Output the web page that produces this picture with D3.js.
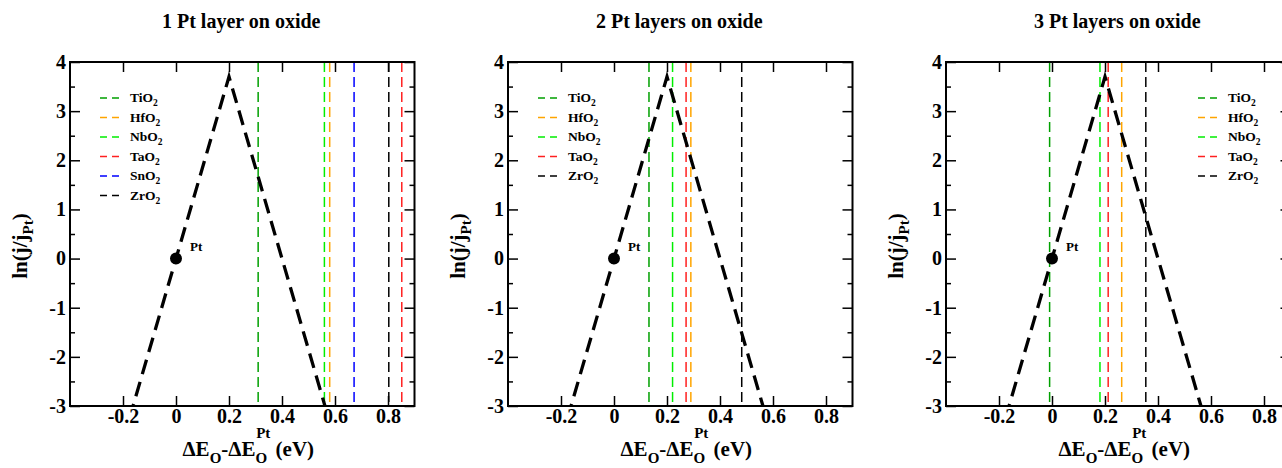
<!DOCTYPE html>
<html>
<head>
<meta charset="utf-8">
<script src="https://cdn.jsdelivr.net/npm/d3@7"></script>
<style>
  body { margin: 0; background: #fff; }
</style>
</head>
<body>
<svg id="chart" width="1282" height="468"></svg>
<script>
// volcano line (clipped to the plot)
const volcanoX = [-0.2, 0.2, 0.6];
const volcanoY = [-3.7, 3.7, -3.7];
const ptX = [0];
const ptY = [0];

const titles = ['1 Pt layer on oxide', '2 Pt layers on oxide', '3 Pt layers on oxide'];

const oxides1 = ['TiO2', 'HfO2', 'NbO2', 'TaO2', 'SnO2', 'ZrO2'];
const shift1 = [0.31, 0.58, 0.56, 0.852, 0.672, 0.803];
const oxides2 = ['TiO2', 'HfO2', 'NbO2', 'TaO2', 'ZrO2'];
const shift2 = [0.132, 0.29, 0.221, 0.272, 0.482];
const oxides3 = ['TiO2', 'HfO2', 'NbO2', 'TaO2', 'ZrO2'];
const shift3 = [-0.009, 0.263, 0.181, 0.212, 0.354];

const xTicks = [-0.2, 0, 0.2, 0.4, 0.6, 0.8];
const xTickLabels = ['-0.2', '0', '0.2', '0.4', '0.6', '0.8'];
const yTicks = [-3, -2, -1, 0, 1, 2, 3, 4];
const yTickLabels = ['-3', '-2', '-1', '0', '1', '2', '3', '4'];
const yMinor = [-2.5, -1.5, -0.5, 0.5, 1.5, 2.5, 3.5];

const oxideColor = {
  TiO2: '#00a000',
  HfO2: '#ffa500',
  NbO2: '#00ee00',
  TaO2: '#ff2020',
  SnO2: '#0000ff',
  ZrO2: '#000000'
};

const panels = [
  { title: titles[0], oxides: oxides1, shift: shift1, left: 70, legendX: 100 },
  { title: titles[1], oxides: oxides2, shift: shift2, left: 508, legendX: 538 },
  { title: titles[2], oxides: oxides3, shift: shift3, left: 946, legendX: 1198 }
];

const serif = 'Liberation Serif';
const plotTop = 62, plotBottom = 406, plotW = 344.5;
const svg = d3.select('#chart');

panels.forEach((p, idx) => {
  const x = d3.scaleLinear().domain([-0.4, 0.9]).range([p.left, p.left + plotW]);
  const y = d3.scaleLinear().domain([-3, 4]).range([plotBottom, plotTop]);
  const g = svg.append('g')
    .attr('font-family', serif)
    .attr('font-weight', 'bold');

  const clipId = `clip-${idx}`;
  g.append('clipPath').attr('id', clipId)
    .append('rect')
    .attr('x', p.left).attr('y', plotTop)
    .attr('width', plotW).attr('height', plotBottom - plotTop);

  // title
  g.append('text')
    .attr('x', p.left + plotW / 2 - 1)
    .attr('y', 28)
    .attr('text-anchor', 'middle')
    .attr('font-size', 20)
    .text(p.title);

  // vertical oxide lines
  p.oxides.forEach((ox, i) => {
    g.append('line')
      .attr('x1', x(p.shift[i])).attr('x2', x(p.shift[i]))
      .attr('y1', y(4)).attr('y2', y(-3))
      .attr('stroke', oxideColor[ox])
      .attr('stroke-width', 1.5)
      .attr('stroke-dasharray', '10,5');
  });

  // volcano
  const line = d3.line().x(d => x(d[0])).y(d => y(d[1]));
  g.append('path')
    .attr('clip-path', `url(#${clipId})`)
    .attr('d', line(volcanoX.map((v, i) => [v, volcanoY[i]])))
    .attr('fill', 'none')
    .attr('stroke', 'black')
    .attr('stroke-width', 3.3)
    .attr('stroke-dasharray', '15,8');

  // Pt point
  g.append('circle')
    .attr('cx', x(ptX[0])).attr('cy', y(ptY[0]))
    .attr('r', 6).attr('fill', 'black');
  g.append('text')
    .attr('x', x(ptX[0]) + 14).attr('y', y(ptY[0]) - 8)
    .attr('font-size', 13)
    .text('Pt');

  // legend
  p.oxides.forEach((ox, i) => {
    const ly = 98 + i * 19.5;
    g.append('line')
      .attr('x1', p.legendX).attr('x2', p.legendX + 20)
      .attr('y1', ly).attr('y2', ly)
      .attr('stroke', oxideColor[ox])
      .attr('stroke-width', 1.5)
      .attr('stroke-dasharray', '7,5');
    const t = g.append('text')
      .attr('x', p.legendX + 30).attr('y', ly + 4)
      .attr('font-size', 13.5);
    t.append('tspan').text(ox.slice(0, -1));
    t.append('tspan').attr('dy', 4).attr('font-size', 9.5).text(ox.slice(-1));
  });

  // axes
  const styleAxis = sel => {
    sel.attr('font-family', serif).attr('font-weight', 'bold').attr('font-size', 20);
    sel.select('.domain').remove();
    sel.selectAll('line').attr('stroke', 'black').attr('stroke-width', 1.5);
    sel.selectAll('text').attr('fill', 'black');
  };
  g.append('g').attr('transform', `translate(0,${plotBottom})`)
    .call(d3.axisBottom(x).tickValues(xTicks).tickSizeInner(-10).tickSizeOuter(0)
      .tickPadding(3).tickFormat((d, i) => xTickLabels[i]))
    .call(styleAxis);
  g.append('g').attr('transform', `translate(0,${plotTop})`)
    .call(d3.axisTop(x).tickValues(xTicks).tickSizeInner(-10).tickSizeOuter(0).tickFormat(''))
    .call(styleAxis);
  g.append('g').attr('transform', `translate(${p.left},0)`)
    .call(d3.axisLeft(y).tickValues(yTicks).tickSizeInner(-10).tickSizeOuter(0)
      .tickPadding(4).tickFormat((d, i) => yTickLabels[i]))
    .call(styleAxis);
  g.append('g').attr('transform', `translate(${p.left},0)`)
    .call(d3.axisLeft(y).tickValues(yMinor).tickSizeInner(-5).tickSizeOuter(0).tickFormat(''))
    .call(styleAxis);
  g.append('g').attr('transform', `translate(${p.left + plotW},0)`)
    .call(d3.axisRight(y).tickValues(yTicks).tickSizeInner(-10).tickSizeOuter(0).tickFormat(''))
    .call(styleAxis);
  g.append('g').attr('transform', `translate(${p.left + plotW},0)`)
    .call(d3.axisRight(y).tickValues(yMinor).tickSizeInner(-5).tickSizeOuter(0).tickFormat(''))
    .call(styleAxis);

  // frame
  g.append('rect')
    .attr('x', p.left).attr('y', plotTop)
    .attr('width', plotW).attr('height', plotBottom - plotTop)
    .attr('fill', 'none').attr('stroke', 'black').attr('stroke-width', 2);

  // axis titles
  const xl = g.append('text')
    .attr('x', p.left + plotW / 2 + 6).attr('y', 456)
    .attr('text-anchor', 'middle')
    .attr('font-size', 21);
  xl.append('tspan').text('ΔE');
  xl.append('tspan').attr('dy', 7).attr('font-size', 15).text('O');
  xl.append('tspan').attr('dy', -7).text('-ΔE');
  xl.append('tspan').attr('dy', 7).attr('font-size', 15).text('O');
  xl.append('tspan').attr('dx', -11).attr('dy', -25).attr('font-size', 15).text('Pt');
  xl.append('tspan').attr('dy', 18).text(' (eV)');

  const yl = g.append('text')
    .attr('transform', `translate(${p.left - 43},246) rotate(-90)`)
    .attr('text-anchor', 'middle')
    .attr('font-size', 21);
  yl.append('tspan').text('ln(j/j');
  yl.append('tspan').attr('dy', 6).attr('font-size', 15).text('Pt');
  yl.append('tspan').attr('dy', -6).text(')');
});
</script>
</body>
</html>
